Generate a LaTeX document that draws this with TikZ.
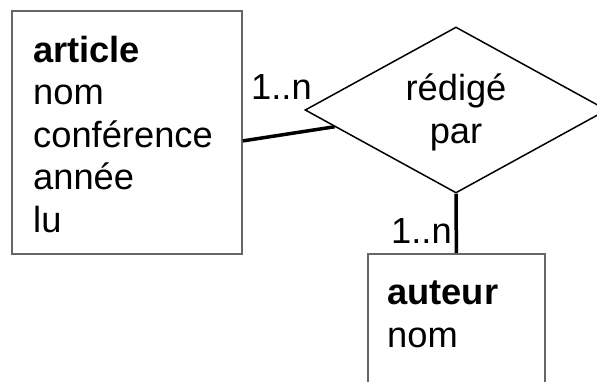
\documentclass[tikz,border=0pt]{standalone}
\usepackage{fontspec}
\setmainfont{Liberation Sans}
\usetikzlibrary{shapes.geometric,calc}

\tikzset{
  entity/.style={draw=black!60, line width=1.8pt, rectangle, inner sep=0pt, anchor=north west},
  relation/.style={draw=black, line width=1.5pt, diamond, inner sep=0pt,
    minimum width=302pt, minimum height=166pt, align=center},
  attrs/.style={anchor=base west, align=left, inner sep=0pt},
  card/.style={anchor=base west, inner sep=0pt},
  link/.style={draw=black, line width=3.5pt},
}

\begin{document}
\begin{tikzpicture}[x=1pt, y=-1pt, font=\fontsize{36.3}{42.5}\selectfont]
  \useasboundingbox (0,0) rectangle (597,381);
  \clip (0,0) rectangle (597,381);

  % entity boxes
  \node[entity, minimum width=230pt, minimum height=243pt] (article) at (11,10) {};
  \node[entity, minimum width=177pt, minimum height=170pt] (auteur) at (367,253) {};

  % relationship (text anchored on the baseline of its last line)
  \node[relation] (rel) at (456,110) {};
  \node[align=center, inner sep=0pt, anchor=base] (reltxt) at (456,143) {rédigé\\par};

  % attribute lists (anchored on the baseline of the last line)
  \node[attrs] (articletxt) at (33,232)
    {\textbf{article}\\nom\\conférence\\année\\lu};
  \node[attrs] (auteurtxt) at (387,347) {\textbf{auteur}\\nom};

  % links
  \draw[link] ([yshift=-8.5pt]article.east) -- ($(rel.west)!0.2!(rel.south)$);
  \draw[link] (rel.south) -- (auteur.north);

  % cardinalities
  \node[card] (c1) at (251,99) {1..n};
  \node[card] (c2) at (391,243) {1..n};
\end{tikzpicture}
\end{document}
